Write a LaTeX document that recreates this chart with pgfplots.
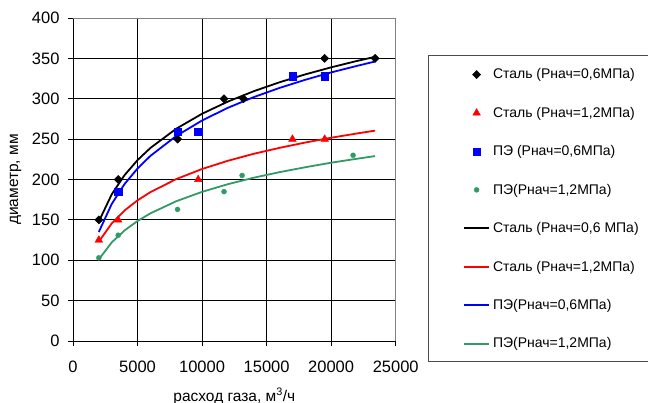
\documentclass[border=0pt]{standalone}
\usepackage{fontspec}
\setmainfont{Liberation Sans}
\usepackage{pgfplots}
\pgfplotsset{compat=1.18}
\definecolor{pegreen}{RGB}{51,153,102}
\newcommand{\legtxt}[1]{\makebox[140pt][l]{\rule[-3pt]{0pt}{12pt}#1}}
\begin{document}
\begin{tikzpicture}
\begin{axis}[
 at={(73pt,62pt)}, anchor=south west,
 scale only axis, width=322.7pt, height=323pt,
 xmin=0, xmax=25000, ymin=0, ymax=400,
 xtick={0,5000,...,25000}, ytick={0,50,...,400},
 scaled x ticks=false,
 /pgf/number format/assume math mode=true,
 /pgf/number format/1000 sep={},
 tick label style={font=\fontsize{16.5}{19}\selectfont},
 xticklabel style={yshift=-11pt},
 yticklabel style={xshift=-5pt},
 axis x line=bottom, axis y line=left,
 axis line style={-, black, line width=0.8pt},
 tick align=outside, major tick length=5pt,
 tick style={black, line width=0.8pt},
 grid=major, grid style={black, line width=0.8pt},
 xlabel={расход газа, м\textsuperscript{3}/ч},
 ylabel={диаметр, мм},
 label style={font=\fontsize{15.5}{18}\selectfont},
 xlabel style={at={(axis description cs:0.5,-0.1858)}, anchor=base},
 ylabel style={at={(axis description cs:-0.1704,0.5)}, anchor=base},
 legend style={at={(1.1001,0.8854)}, anchor=north west,
   draw=none, fill=none,
   inner xsep=35pt, inner ysep=13.5pt, row sep=26.8pt, column sep=3pt,
   font=\fontsize{14}{16}\selectfont, nodes={inner sep=0pt}},
 legend cell align=left,
 legend image code/.code={\draw[mark repeat=2,mark phase=2,#1] plot coordinates {(0pt,0pt) (12.5pt,0pt) (25pt,0pt)};},
 clip=false,
]
\addplot[only marks, mark=square*, mark size=2.9pt, mark options={rotate=45, fill=black, draw=black}]
 coordinates {(2000,150) (3500,200) (8100,250) (11700,300) (13200,300) (19500,350) (23400,350)};
\addlegendentry{\legtxt{Сталь (Рнач=0,6МПа)}}
\addplot[only marks, mark=triangle*, mark size=4.4pt, mark options={fill=red, draw=red}]
 coordinates {(2000,125) (3500,150) (9700,200) (17000,250) (19500,250)};
\addlegendentry{\legtxt{Сталь (Рнач=1,2МПа)}}
\addplot[only marks, mark=square*, mark size=3.6pt, mark options={fill=blue, draw=blue}]
 coordinates {(3500,185) (8100,259) (9700,259) (17000,328) (19500,328)};
\addlegendentry{\legtxt{ПЭ (Рнач=0,6МПа)}}
\addplot[only marks, mark=*, mark size=2.5pt, mark options={fill=pegreen, draw=pegreen}]
 coordinates {(2000,103) (3500,131) (8100,163) (11700,185) (13100,205) (21700,230)};
\addlegendentry{\legtxt{ПЭ(Рнач=1,2МПа)}}
\addplot[black, line width=1.8pt, no marks] coordinates {
 (2000,148) (3000,181.6) (4000,205.5) (5000,224) (6000,239.1) (8000,262.9) (10000,281.4)
 (12000,296.5) (14000,309.3) (16000,320.4) (18000,330.2) (20000,338.9) (22000,346.8) (23400,351.9)};
\addlegendentry{\legtxt{Сталь (Рнач=0,6 МПа)}}
\addplot[red, line width=1.8pt, no marks] coordinates {
 (2000,123) (3000,145.6) (4000,161.7) (5000,174.2) (6000,184.4) (8000,200.5) (10000,213)
 (12000,223.2) (14000,231.8) (16000,239.2) (18000,245.8) (20000,251.7) (22000,257) (23400,260.5)};
\addlegendentry{\legtxt{Сталь (Рнач=1,2МПа)}}
\addplot[blue, line width=1.8pt, no marks] coordinates {
 (2000,135) (3000,169.7) (4000,194.5) (5000,213.6) (6000,229.3) (8000,253.9) (10000,273.1)
 (12000,288.8) (14000,302) (16000,313.4) (18000,323.5) (20000,332.6) (22000,340.7) (23400,346.1)};
\addlegendentry{\legtxt{ПЭ(Рнач=0,6МПа)}}
\addplot[pegreen, line width=1.8pt, no marks] coordinates {
 (2000,101) (3000,122.1) (4000,137) (5000,148.6) (6000,158.1) (8000,173.1) (10000,184.7)
 (12000,194.2) (14000,202.2) (16000,209.1) (18000,215.2) (20000,220.8) (22000,225.7) (23400,229)};
\addlegendentry{\legtxt{ПЭ(Рнач=1,2МПа)}}
\draw[gray, line width=0.8pt] (rel axis cs:0,1) -- (rel axis cs:1,1) -- (rel axis cs:1,0);
\draw[gray!60!black, line width=0.8pt] (rel axis cs:1.85,0.8854) -- (rel axis cs:1.1001,0.8854) -- (rel axis cs:1.1001,-0.0619) -- (rel axis cs:1.85,-0.0619);
\end{axis}
\pgfresetboundingbox
\useasboundingbox (0,0) rectangle (648pt,403pt);
\end{tikzpicture}
\end{document}
